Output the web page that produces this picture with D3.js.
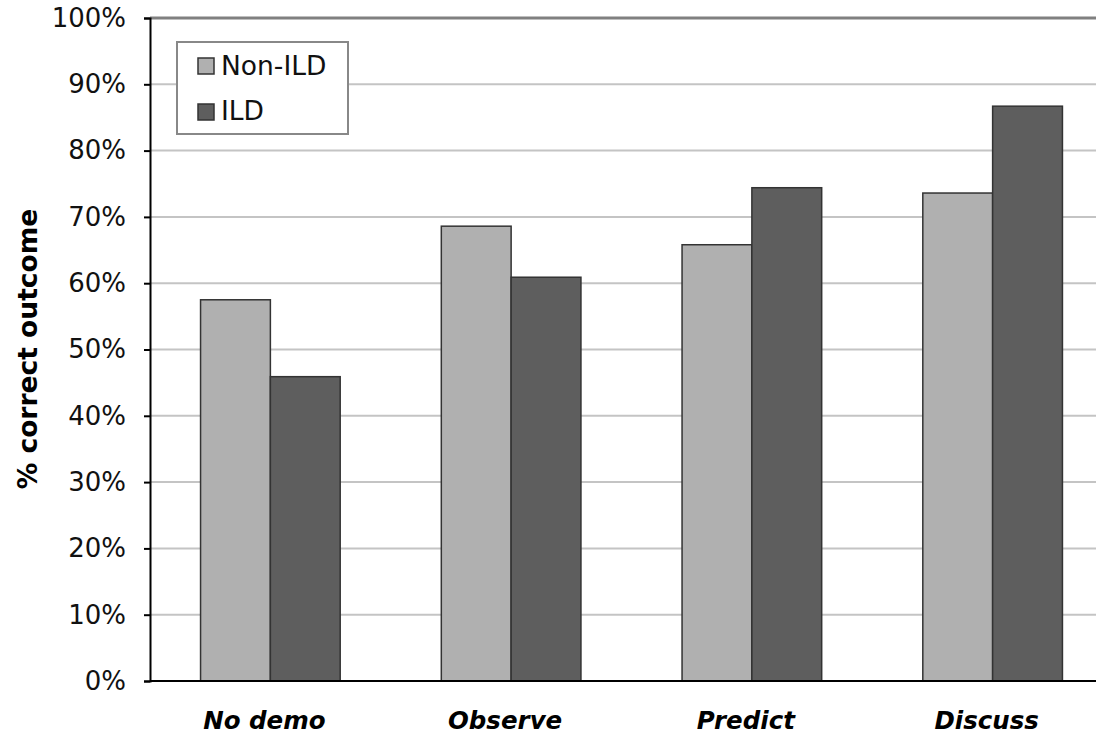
<!DOCTYPE html>
<html><head><meta charset="utf-8">
<script src="https://cdn.jsdelivr.net/npm/d3@7"></script>
<style>body{margin:0;background:#fff;overflow:hidden}svg{display:block}text{font-family:"DejaVu Sans",Verdana,sans-serif}</style>
</head><body>
<svg id="c" width="1096" height="734"></svg>
<script>
const categories = ["No demo","Observe","Predict","Discuss"];
const seriesNames = ["Non-ILD","ILD"];
const nonILD = [57.5, 68.6, 65.8, 73.6];
const ILD = [45.9, 60.9, 74.4, 86.7];
const yTicks = [0,10,20,30,40,50,60,70,80,90,100];
const colors = ["#b0b0b0","#5e5e5e"];

(function(){
const svg = d3.select("#c");
const mL = 150, mR = 1113, mT = 18, mB = 681;
const x = d3.scaleBand().domain(categories).range([mL, mR]).paddingInner(0.42).paddingOuter(0.21);
const xs = d3.scaleBand().domain(seriesNames).range([0, x.bandwidth()]);
const y = d3.scaleLinear().domain([0,100]).range([mB, mT]);

svg.append("g").selectAll("line").data(yTicks.filter(d=>d>0 && d<100)).join("line")
  .attr("x1", mL).attr("x2", mR).attr("y1", d=>y(d)).attr("y2", d=>y(d))
  .attr("stroke","#c4c4c4").attr("stroke-width",2);
svg.append("line").attr("x1",mL).attr("x2",mR).attr("y1",y(100)).attr("y2",y(100))
  .attr("stroke","#808080").attr("stroke-width",3);

const data = categories.map((c,i)=>({c, vals:[nonILD[i], ILD[i]]}));
const g = svg.append("g");
data.forEach(d=>{
  d.vals.forEach((v,j)=>{
    g.append("rect").attr("x", x(d.c)+xs(seriesNames[j])).attr("width", xs.bandwidth())
      .attr("y", y(v)).attr("height", y(0)-y(v))
      .attr("fill", colors[j]).attr("stroke","#333").attr("stroke-width",1.5);
  });
});

const ya = svg.append("g").attr("transform",`translate(${mL},0)`)
  .call(d3.axisLeft(y).tickValues(yTicks).tickFormat(d=>d+"%").tickSize(6).tickPadding(18));
ya.select(".domain").attr("stroke","#000").attr("stroke-width",2);
ya.selectAll(".tick line").attr("stroke","#000").attr("stroke-width",2);
ya.selectAll("text").attr("font-size",26).attr("fill","#111").attr("font-family","DejaVu Sans");

svg.append("line").attr("x1",mL).attr("x2",mR).attr("y1",mB).attr("y2",mB).attr("stroke","#000").attr("stroke-width",2);

svg.append("g").selectAll("text").data(categories).join("text")
  .attr("x", d=>x(d)+x.bandwidth()/2 - 6).attr("y", 729)
  .attr("text-anchor","middle").attr("font-size",24.5).attr("font-weight","bold").attr("font-style","italic")
  .text(d=>d);

svg.append("text").attr("transform","translate(37,349) rotate(-90)").attr("text-anchor","middle")
  .attr("font-size",26.5).attr("font-weight","bold").text("% correct outcome");

const lg = svg.append("g");
lg.append("rect").attr("x",177).attr("y",42).attr("width",171).attr("height",92)
  .attr("fill","#fff").attr("stroke","#888").attr("stroke-width",2);
seriesNames.forEach((s,i)=>{
  lg.append("rect").attr("x",198).attr("y",58+i*46).attr("width",16).attr("height",16)
    .attr("fill",colors[i]).attr("stroke","#333").attr("stroke-width",1.5);
  lg.append("text").attr("x",221).attr("y",75+i*45).attr("font-size",26.5).attr("fill","#111").text(s);
});
})();
</script>
</body></html>
